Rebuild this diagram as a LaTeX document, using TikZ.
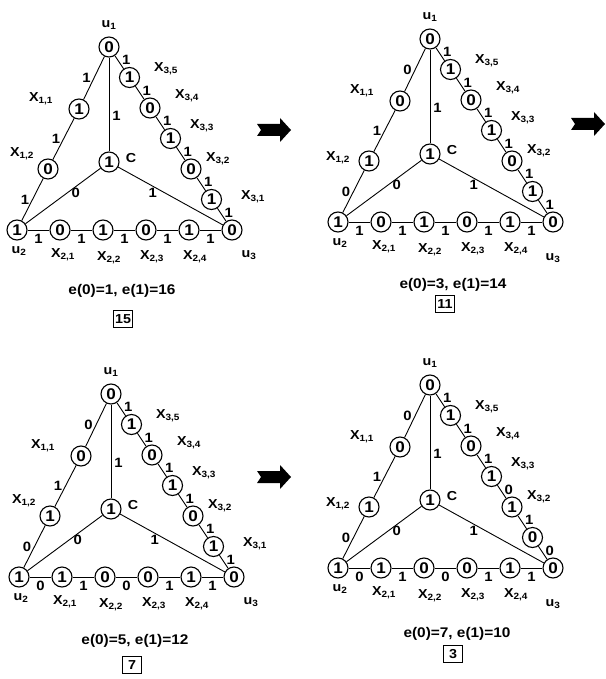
\documentclass[tikz,border=0pt]{standalone}
\usepackage{fontspec}
\setmainfont{Liberation Sans}[FakeStretch=1.1]
\usetikzlibrary{calc}
\tikzset{
  vtx/.style={circle,draw,line width=1.1pt,minimum size=20pt,inner sep=0pt,font=\fontsize{15.5}{15.5}\selectfont\bfseries},
  elab/.style={font=\fontsize{13.5}{13.5}\selectfont\bfseries,inner sep=0.8pt},
  xlab/.style={font=\fontsize{13}{13}\selectfont\bfseries,inner sep=0pt},
  edge/.style={line width=0.9pt},
  capt/.style={font=\fontsize{14}{14}\selectfont\bfseries,inner sep=0pt},
  boxlab/.style={draw,line width=1.2pt,minimum width=19pt,minimum height=17pt,inner sep=1pt,font=\fontsize{13}{13}\selectfont\bfseries}
}
% #1 prefix, #2 origin, #3 node values, #4 left edges, #5 centre labels, #6 bottom edges, #7 right edges, #8 variant
\newcommand\Tri[8]{%
\begin{scope}[shift={#2}]
  \coordinate (#1-pu1) at (0,0);
  \coordinate (#1-pu2) at (-92,183);
  \coordinate (#1-pu3) at (123,183);
  \coordinate (#1-pc) at (0,115);
  \coordinate (#1-px11) at (-30,62);
  \coordinate (#1-px12) at (-61,122);
  \foreach \k/\t in {1/0.2,2/0.4,3/0.6,4/0.8}
    \coordinate (#1-px2\k) at ($(#1-pu2)!\t!(#1-pu3)$);
  \foreach \k in {1,...,5}
    \coordinate (#1-px3\k) at ($(#1-pu3)!{\k/6}!(#1-pu1)$);
  \foreach \n/\v in {#3} \node[vtx] (#1-\n) at (#1-p\n) {\v};
  \foreach \a/\b/\l in {#4} \draw[edge] (#1-\a) -- node[elab,left=2pt] {\l} (#1-\b);
  \foreach \a/\b/\l in {#6} \draw[edge] (#1-\a) -- node[elab,below=3pt] {\l} (#1-\b);
  \foreach \a/\b/\l in {#7} \draw[edge] (#1-\a) -- node[elab,right=1.5pt,yshift=2pt] {\l} (#1-\b);
  \foreach \p/\q/\r in {#5} {
    \draw[edge] (#1-u1) -- node[elab,pos=0.62,right=2pt] {\p} (#1-c);
    \draw[edge] (#1-c) -- node[elab,pos=0.33,below=0.5pt] {\q} (#1-u2);
    \draw[edge] (#1-c) -- node[elab,pos=0.33,below=0.5pt] {\r} (#1-u3);
  }
  \node[xlab] (#1-lu1) at ($(#1-u1)+(0,-22)$) {u\textsubscript{1}};
  \node[xlab] (#1-lu2) at ($(#1-u2)+(2,21)$) {u\textsubscript{2}};
  \node[xlab] (#1-lc) at (22,111) {C};
  \node[xlab] (#1-lx11) at (-68,52) {X\textsubscript{1,1}};
  \node[xlab] (#1-lx21) at ($(#1-x21)+(3,25)$) {X\textsubscript{2,1}};
  \node[xlab] (#1-lx22) at ($(#1-x22)+(6,28)$) {X\textsubscript{2,2}};
  \node[xlab] (#1-lx23) at ($(#1-x23)+(6,27)$) {X\textsubscript{2,3}};
  \node[xlab] (#1-lx24) at ($(#1-x24)+(6,27)$) {X\textsubscript{2,4}};
  \node[xlab] (#1-lx35) at (57,22) {X\textsubscript{3,5}};
  \node[xlab] (#1-lx34) at (78,49) {X\textsubscript{3,4}};
  \node[xlab] (#1-lx33) at (93,79) {X\textsubscript{3,3}};
  \node[xlab] (#1-lx32) at (109,112) {X\textsubscript{3,2}};
  \ifnum#8=1
    \node[xlab] (#1-lx12) at (-87,107) {X\textsubscript{1,2}};
    \node[xlab] (#1-lu3) at ($(#1-u3)+(17,25)$) {u\textsubscript{3}};
    \node[xlab] (#1-lx31) at (144,150) {X\textsubscript{3,1}};
  \else
    \node[xlab] (#1-lx12) at (-92,119) {X\textsubscript{1,2}};
    \node[xlab] (#1-lu3) at ($(#1-u3)+(0,36)$) {u\textsubscript{3}};
  \fi
\end{scope}}
\newcommand\FatArrow[3]{% name, centre x, centre y
  \fill[black] ($(#2,#3)+(-17,-6)$) -- ($(#2,#3)+(6,-6)$) -- ($(#2,#3)+(6,-12)$)
    -- ($(#2,#3)+(17,0)$) -- ($(#2,#3)+(6,12)$) -- ($(#2,#3)+(6,6)$)
    -- ($(#2,#3)+(-17,6)$) -- ($(#2,#3)+(-13,0)$) -- cycle;
  \coordinate (#1) at (#2,#3);}
\begin{document}
\begin{tikzpicture}[x=1pt,y=-1pt]
\useasboundingbox (0,0) rectangle (605,679);
\fill[white] (0,0) rectangle (605,679);

\Tri{A}{(109,47)}
  {u1/0,x11/1,x12/0,u2/1,c/1,x21/0,x22/1,x23/0,x24/1,u3/0,x31/1,x32/0,x33/1,x34/0,x35/1}
  {u1/x11/1,x11/x12/1,x12/u2/1}{1/0/1}
  {u2/x21/1,x21/x22/1,x22/x23/1,x23/x24/1,x24/u3/1}
  {u1/x35/1,x35/x34/1,x34/x33/1,x33/x32/1,x32/x31/1,x31/u3/1}{1}
\Tri{B}{(430,39)}
  {u1/0,x11/0,x12/1,u2/1,c/1,x21/0,x22/1,x23/0,x24/1,u3/0,x31/1,x32/0,x33/1,x34/0,x35/1}
  {u1/x11/0,x11/x12/1,x12/u2/0}{1/0/1}
  {u2/x21/1,x21/x22/1,x22/x23/1,x23/x24/1,x24/u3/1}
  {u1/x35/1,x35/x34/1,x34/x33/1,x33/x32/1,x32/x31/1,x31/u3/1}{2}
\Tri{C}{(111,394)}
  {u1/0,x11/0,x12/1,u2/1,c/1,x21/1,x22/0,x23/0,x24/1,u3/0,x31/1,x32/0,x33/1,x34/0,x35/1}
  {u1/x11/0,x11/x12/1,x12/u2/0}{1/0/1}
  {u2/x21/0,x21/x22/1,x22/x23/0,x23/x24/1,x24/u3/1}
  {u1/x35/1,x35/x34/1,x34/x33/1,x33/x32/1,x32/x31/1,x31/u3/1}{1}
\Tri{D}{(430,385)}
  {u1/0,x11/0,x12/1,u2/1,c/1,x21/1,x22/0,x23/0,x24/1,u3/0,x31/0,x32/1,x33/1,x34/0,x35/1}
  {u1/x11/0,x11/x12/1,x12/u2/0}{1/0/1}
  {u2/x21/0,x21/x22/1,x22/x23/0,x23/x24/1,x24/u3/1}
  {u1/x35/1,x35/x34/1,x34/x33/1,x33/x32/0,x32/x31/1,x31/u3/0}{2}

\node[capt] (capA) at (122,291) {e(0)=1, e(1)=16};
\node[boxlab] (boxA) at (123,319) {15};
\node[capt] (capB) at (453,285) {e(0)=3, e(1)=14};
\node[boxlab] (boxB) at (445,304) {11};
\node[capt] (capC) at (135,641) {e(0)=5, e(1)=12};
\node[boxlab] (boxC) at (132,665) {7};
\node[capt] (capD) at (457,634) {e(0)=7, e(1)=10};
\node[boxlab] (boxD) at (453,654) {3};

\FatArrow{arA}{274}{130}
\FatArrow{arB}{588}{124}
\FatArrow{arC}{274}{477}
\end{tikzpicture}
\end{document}
